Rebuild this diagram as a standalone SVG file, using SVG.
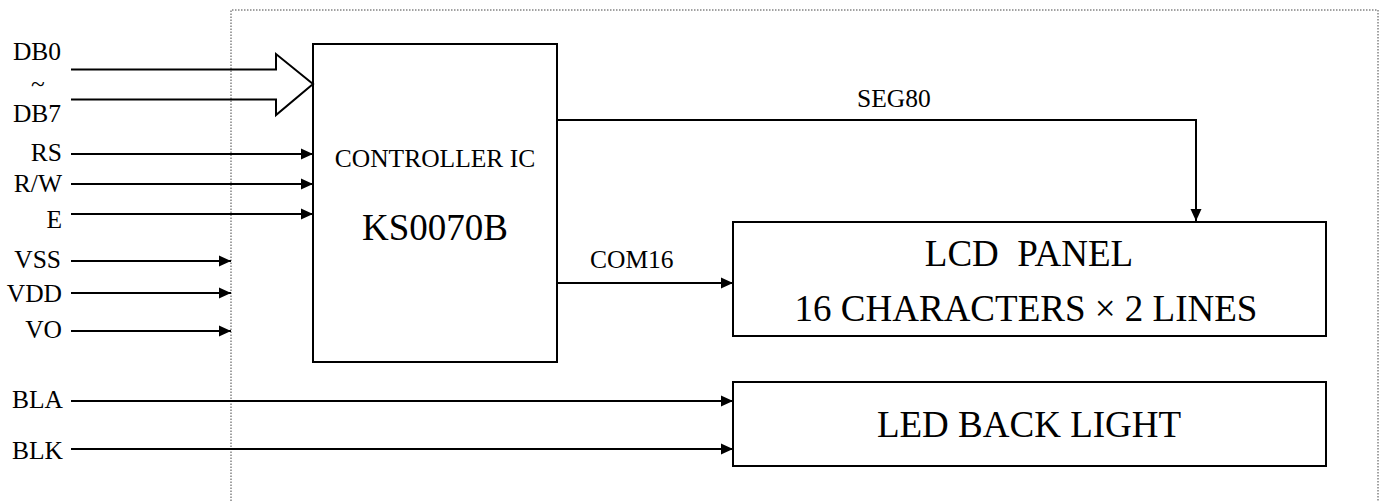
<svg xmlns="http://www.w3.org/2000/svg" width="1385" height="501" viewBox="0 0 1385 501" font-family="'Liberation Serif', 'DejaVu Serif', serif">
<style>
text{font-family:'Liberation Serif','DejaVu Serif',serif;fill:#000}
.s{font-size:25.5px}
.l{font-size:37px}
.box{fill:#fff;stroke:#000;stroke-width:2}
.w{fill:none;stroke:#000;stroke-width:2}
.dot{fill:none;stroke:#444;stroke-width:1;stroke-dasharray:1.5 1.5}
</style>
<defs>
<marker id="ah" viewBox="0 0 12 12" refX="12" refY="6" markerWidth="12" markerHeight="12" markerUnits="userSpaceOnUse" orient="auto">
<path d="M0,0.5 L12,6 L0,11.5 Z" fill="#000"/>
</marker>
</defs>
<g id="frame">
<path class="dot" d="M231,501 V10 H1378 V501"/>
</g>
<g id="controller">
<rect class="box" x="313" y="44" width="244" height="318"/>
<text class="s" x="435" y="167" text-anchor="middle">CONTROLLER IC</text>
<text class="l" x="435" y="240" text-anchor="middle">KS0070B</text>
</g>
<g id="lcd">
<rect class="box" x="733" y="222" width="593" height="114"/>
<text class="l" x="1029" y="266" text-anchor="middle" xml:space="preserve">LCD  PANEL</text>
<text class="l" x="1026" y="321" text-anchor="middle">16 CHARACTERS × 2 LINES</text>
</g>
<g id="led">
<rect class="box" x="733" y="382" width="593" height="84"/>
<text class="l" x="1029" y="437" text-anchor="middle">LED BACK LIGHT</text>
</g>
<g id="labels">
<text class="s" x="37" y="60" text-anchor="middle">DB0</text>
<text class="s" x="38" y="92" text-anchor="middle">~</text>
<text class="s" x="37" y="122" text-anchor="middle">DB7</text>
<text class="s" x="62" y="161" text-anchor="end">RS</text>
<text class="s" x="62" y="192" text-anchor="end">R/W</text>
<text class="s" x="62" y="228" text-anchor="end">E</text>
<text class="s" x="61" y="268" text-anchor="end">VSS</text>
<text class="s" x="62" y="302" text-anchor="end">VDD</text>
<text class="s" x="62" y="338" text-anchor="end">VO</text>
<text class="s" x="63" y="408" text-anchor="end">BLA</text>
<text class="s" x="63" y="459" text-anchor="end">BLK</text>
<text class="s" x="590" y="268">COM16</text>
<text class="s" x="857" y="107">SEG80</text>
</g>
<g id="connectors">
<path class="w" d="M71,69.5 H276 V54 L313,84 L276,115 V99.5 H71"/>
<line class="w" x1="71" y1="154" x2="313" y2="154" marker-end="url(#ah)"/>
<line class="w" x1="71" y1="184" x2="313" y2="184" marker-end="url(#ah)"/>
<line class="w" x1="71" y1="214" x2="313" y2="214" marker-end="url(#ah)"/>
<line class="w" x1="71" y1="261" x2="231" y2="261" marker-end="url(#ah)"/>
<line class="w" x1="71" y1="293" x2="231" y2="293" marker-end="url(#ah)"/>
<line class="w" x1="71" y1="331" x2="231" y2="331" marker-end="url(#ah)"/>
<line class="w" x1="71" y1="401" x2="733" y2="401" marker-end="url(#ah)"/>
<line class="w" x1="71" y1="449" x2="733" y2="449" marker-end="url(#ah)"/>
<line class="w" x1="557" y1="283" x2="733" y2="283" marker-end="url(#ah)"/>
<polyline class="w" points="557,120 1196,120 1196,221" marker-end="url(#ah)"/>
</g>
</svg>
